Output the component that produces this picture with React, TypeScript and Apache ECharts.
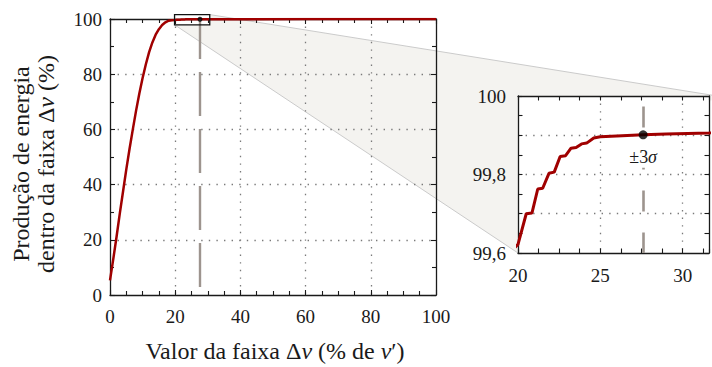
import { useEffect, useRef } from "react";
import * as echarts from "echarts";

// Band width (% of v') and the share of energy produced inside the band (%)
const bandWidth = [
  0, 1, 2, 3, 4, 5, 6, 7, 8, 9, 10, 11, 12, 13, 14, 15, 16, 17, 18, 19, 20,
  20.5, 20.85, 21.2, 21.5, 21.88, 22.2, 22.56, 22.89, 23.22, 23.53, 23.86, 24.17,
  24.6, 25, 26, 27.6, 29, 31.6, 40, 60, 80, 100,
];
const energyShare = [
  5.3, 13, 21, 29.5, 37.5, 45.5, 53, 60, 66.8, 73, 78.6, 83.6, 88, 91.5, 94.3,
  96.3, 97.8, 98.8, 99.4, 99.58, 99.622,
  99.7, 99.702, 99.763, 99.765, 99.803, 99.806, 99.846, 99.848, 99.867, 99.869,
  99.878, 99.88, 99.893, 99.896, 99.898, 99.901, 99.903, 99.906, 99.94, 99.97,
  99.99, 100,
];

// ±3σ marker
const sigmaX = [27.6];
const sigmaY = [99.901];
const sigmaLabel = ["±3", "σ"];

// axis ranges and ticks
const mainXRange = [0, 100];
const mainYRange = [0, 100];
const mainStep = 20;
const insetXRange = [20, 31.6];
const insetYRange = [99.6, 100];
const insetXLabelStep = 5;
const insetXTickStep = 1.25;
const insetYTickStep = 0.05;
const insetYGridStep = 0.1;
const insetYLabelStep = 0.2;

// zoom box drawn on the main plot (data coords)
const zoomBoxX = [19.8, 30.6];
const zoomBoxY = [97.9, 101.6];

// texts
const xTitle = "Valor da faixa Δ{i|v} (% de {i|v}′)";
const yTitle1 = "Produção de energia";
const yTitle2 = "dentro da faixa Δ{i|v} (%)";

const SERIF = "Liberation Serif";
const INK = "#1a1a1a";
const MAIN_GRID = { left: 110, top: 19, width: 326, height: 276 };
const INSET_GRID = { left: 518, top: 96, width: 199, height: 157 };

function buildOption(): any {
  const red = "#a00000";
  const dashGray = "#9d948e";
  const shade = "#f4f3f0";
  const edge = "#cbcbcb";
  const pairs = bandWidth.map((x, i) => [x, energyShare[i]]);

  const axLine = { show: true, onZero: false, lineStyle: { color: INK, width: 1.3 } };
  const tick = (len: number) => ({
    show: true,
    inside: true,
    length: len,
    lineStyle: { color: INK, width: 1.1 },
  });
  const gridLine = {
    show: true,
    showMinLine: false,
    showMaxLine: false,
    lineStyle: { type: [1.4, 6.2], color: "#7a7a7a", width: 1.3 },
  };
  const minor = (n: number) => ({
    show: true,
    splitNumber: n,
    length: 4,
    lineStyle: { color: INK, width: 1.1 },
  });
  const near = (v: number, step: number) =>
    Math.abs(v / step - Math.round(v / step)) < 1e-6;
  const insetXFmt = (v: number) => (near(v, insetXLabelStep) ? String(v) : "");
  const insetYFmt = (v: number) =>
    near(v, insetYLabelStep)
      ? Math.abs(v - 100) < 1e-6
        ? "100"
        : v.toFixed(1).replace(".", ",")
      : "";
  const rich = { i: { fontStyle: "italic", fontFamily: SERIF, fontSize: 24 } };
  const tickLabel = (margin: number, formatter?: any) => ({
    fontFamily: SERIF,
    fontSize: 19,
    color: INK,
    margin,
    ...(formatter ? { formatter } : {}),
  });

  return {
    animation: false,
    textStyle: { fontFamily: SERIF },
    grid: [
      { ...MAIN_GRID, show: false },
      { ...INSET_GRID, show: true, backgroundColor: "#fff", borderWidth: 0 },
    ],
    xAxis: [
      {
        gridIndex: 0, type: "value", min: mainXRange[0], max: mainXRange[1],
        interval: mainStep, position: "bottom", axisLine: axLine, axisTick: tick(5),
        minorTick: minor(4), axisLabel: tickLabel(12), splitLine: gridLine,
      },
      {
        gridIndex: 0, type: "value", min: mainXRange[0], max: mainXRange[1],
        interval: mainStep, position: "top", axisLine: axLine, axisTick: tick(5),
        minorTick: minor(4), axisLabel: { show: false }, splitLine: { show: false },
      },
      {
        gridIndex: 1, type: "value", min: insetXRange[0], max: insetXRange[1],
        interval: insetXTickStep, position: "bottom", axisLine: axLine, axisTick: tick(4.5),
        axisLabel: tickLabel(13, insetXFmt), splitLine: { show: false },
      },
      {
        gridIndex: 1, type: "value", min: insetXRange[0], max: insetXRange[1],
        interval: insetXTickStep, position: "top", axisLine: axLine, axisTick: tick(4.5),
        axisLabel: { show: false }, splitLine: { show: false },
      },
      {
        gridIndex: 1, type: "value", min: insetXRange[0], max: insetXRange[1],
        interval: insetXLabelStep, position: "bottom",
        axisLine: { show: false, onZero: false }, axisTick: { show: false },
        axisLabel: { show: false }, splitLine: gridLine,
      },
    ],
    yAxis: [
      {
        gridIndex: 0, type: "value", min: mainYRange[0], max: mainYRange[1],
        interval: mainStep, position: "left", axisLine: axLine, axisTick: tick(5),
        minorTick: minor(2), axisLabel: tickLabel(8), splitLine: gridLine,
      },
      {
        gridIndex: 0, type: "value", min: mainYRange[0], max: mainYRange[1],
        interval: mainStep, position: "right", axisLine: axLine, axisTick: tick(5),
        minorTick: minor(2), axisLabel: { show: false }, splitLine: { show: false },
      },
      {
        gridIndex: 1, type: "value", min: insetYRange[0], max: insetYRange[1],
        interval: insetYTickStep, position: "left", axisLine: axLine, axisTick: tick(4.5),
        axisLabel: tickLabel(12, insetYFmt), splitLine: { show: false },
      },
      {
        gridIndex: 1, type: "value", min: insetYRange[0], max: insetYRange[1],
        interval: insetYTickStep, position: "right", axisLine: axLine, axisTick: tick(4.5),
        axisLabel: { show: false }, splitLine: { show: false },
      },
      {
        gridIndex: 1, type: "value", min: insetYRange[0], max: insetYRange[1],
        interval: insetYGridStep, position: "left",
        axisLine: { show: false, onZero: false }, axisTick: { show: false },
        axisLabel: { show: false }, splitLine: gridLine,
      },
    ],
    series: [
      {
        // shaded zoom funnel from the box on the main plot to the inset
        type: "custom",
        xAxisIndex: 0,
        yAxisIndex: 0,
        z: -1,
        silent: true,
        data: [[zoomBoxX[0], zoomBoxY[0], zoomBoxX[1], zoomBoxY[1]]],
        encode: { x: [0, 2], y: [1, 3] },
        renderItem: (_p: any, api: any) => {
          const tr = api.coord([api.value(2), api.value(3)]);
          const bl = api.coord([api.value(0), api.value(1)]);
          const br = api.coord([api.value(2), api.value(1)]);
          const inTR = [INSET_GRID.left + INSET_GRID.width, INSET_GRID.top];
          const inBL = [INSET_GRID.left, INSET_GRID.top + INSET_GRID.height];
          return {
            type: "group",
            children: [
              { type: "polygon", shape: { points: [tr, inTR, inBL, bl, br] }, style: { fill: shade } },
              { type: "line", shape: { x1: tr[0], y1: tr[1], x2: inTR[0], y2: inTR[1] }, style: { stroke: edge, lineWidth: 1 } },
              { type: "line", shape: { x1: bl[0], y1: bl[1], x2: inBL[0], y2: inBL[1] }, style: { stroke: edge, lineWidth: 1 } },
            ],
          };
        },
      },
      {
        // zoom box outline
        type: "custom",
        xAxisIndex: 0,
        yAxisIndex: 0,
        z: 10,
        silent: true,
        data: [[zoomBoxX[0], zoomBoxY[0], zoomBoxX[1], zoomBoxY[1]]],
        encode: { x: [0, 2], y: [1, 3] },
        renderItem: (_p: any, api: any) => {
          const tl = api.coord([api.value(0), api.value(3)]);
          const br = api.coord([api.value(2), api.value(1)]);
          return {
            type: "rect",
            shape: { x: tl[0], y: tl[1], width: br[0] - tl[0], height: br[1] - tl[1] },
            style: { fill: "none", stroke: "#111", lineWidth: 1.3 },
          };
        },
      },
      {
        type: "line",
        xAxisIndex: 0,
        yAxisIndex: 0,
        data: pairs,
        showSymbol: false,
        z: 4,
        lineStyle: { color: red, width: 2.5 },
        markLine: {
          silent: true,
          symbol: ["none", "none"],
          label: { show: false },
          lineStyle: { color: dashGray, width: 2.4, type: [44, 13], dashOffset: 4.3 },
          data: [[{ coord: [sigmaX[0], mainYRange[1]] }, { coord: [sigmaX[0], mainYRange[0]] }]],
        },
      },
      {
        type: "line",
        xAxisIndex: 2,
        yAxisIndex: 2,
        data: pairs,
        showSymbol: false,
        z: 4,
        lineStyle: { color: red, width: 3 },
        markLine: {
          silent: true,
          symbol: ["none", "none"],
          label: { show: false },
          lineStyle: { color: dashGray, width: 2.6, type: [21, 21] },
          data: [[{ coord: [sigmaX[0], 99.973] }, { coord: [sigmaX[0], insetYRange[0]] }]],
        },
      },
      {
        type: "scatter",
        xAxisIndex: 0,
        yAxisIndex: 0,
        data: sigmaX.map((x, i) => [x, sigmaY[i]]),
        symbolSize: 5,
        itemStyle: { color: "#000" },
        z: 6,
      },
      {
        type: "scatter",
        xAxisIndex: 2,
        yAxisIndex: 2,
        data: sigmaX.map((x, i) => [x, sigmaY[i]]),
        symbolSize: 9,
        itemStyle: { color: "#000" },
        z: 6,
      },
      {
        // ±3σ label under the inset marker
        type: "custom",
        xAxisIndex: 2,
        yAxisIndex: 2,
        z: 8,
        silent: true,
        data: sigmaX.map((x, i) => [x, sigmaY[i]]),
        renderItem: (_p: any, api: any) => {
          const p = api.coord([api.value(0), api.value(1)]);
          return {
            type: "group",
            children: [
              { type: "rect", shape: { x: p[0] - 17, y: p[1] + 11, width: 34, height: 22 }, style: { fill: "#fff" } },
              {
                type: "text",
                x: p[0],
                y: p[1] + 22,
                style: {
                  text: `${sigmaLabel[0]}{s|${sigmaLabel[1]}}`,
                  fontFamily: SERIF,
                  fontSize: 18,
                  fill: INK,
                  align: "center",
                  verticalAlign: "middle",
                  rich: { s: { fontStyle: "italic", fontFamily: SERIF, fontSize: 18 } },
                },
              },
            ],
          };
        },
      },
    ],
    graphic: [
      {
        type: "text",
        x: 275,
        y: 351,
        style: { text: xTitle, fontFamily: SERIF, fontSize: 24, fill: INK, align: "center", verticalAlign: "middle", rich },
      },
      {
        type: "text",
        x: 21,
        y: 164,
        rotation: Math.PI / 2,
        style: { text: yTitle1, fontFamily: SERIF, fontSize: 24, fill: INK, align: "center", verticalAlign: "middle" },
      },
      {
        type: "text",
        x: 46,
        y: 164,
        rotation: Math.PI / 2,
        style: { text: yTitle2, fontFamily: SERIF, fontSize: 24, fill: INK, align: "center", verticalAlign: "middle", rich },
      },
    ],
  };
}

export default function App() {
  const ref = useRef<HTMLDivElement>(null);

  useEffect(() => {
    const chart = echarts.init(ref.current!, null, { renderer: "svg" });
    const option = buildOption();
    chart.setOption(option);

    let alive = true;
    const rebuild = () => {
      if (!alive) return;
      chart.clear();
      chart.setOption(buildOption(), true);
    };
    const t = setTimeout(rebuild, 40);
    try {
      const fs: any = (document as any).fonts;
      if (fs && fs.load) {
        Promise.all([
          fs.load(`19px "${SERIF}"`),
          fs.load(`italic 24px "${SERIF}"`),
        ]).then(rebuild, () => {});
      }
    } catch (e) {
      // ignore
    }

    return () => {
      alive = false;
      clearTimeout(t);
      chart.dispose();
    };
  }, []);

  return (
    <div
      ref={ref}
      style={{ position: "fixed", left: 0, top: 0, width: 712, height: 367, background: "#fff" }}
    />
  );
}
